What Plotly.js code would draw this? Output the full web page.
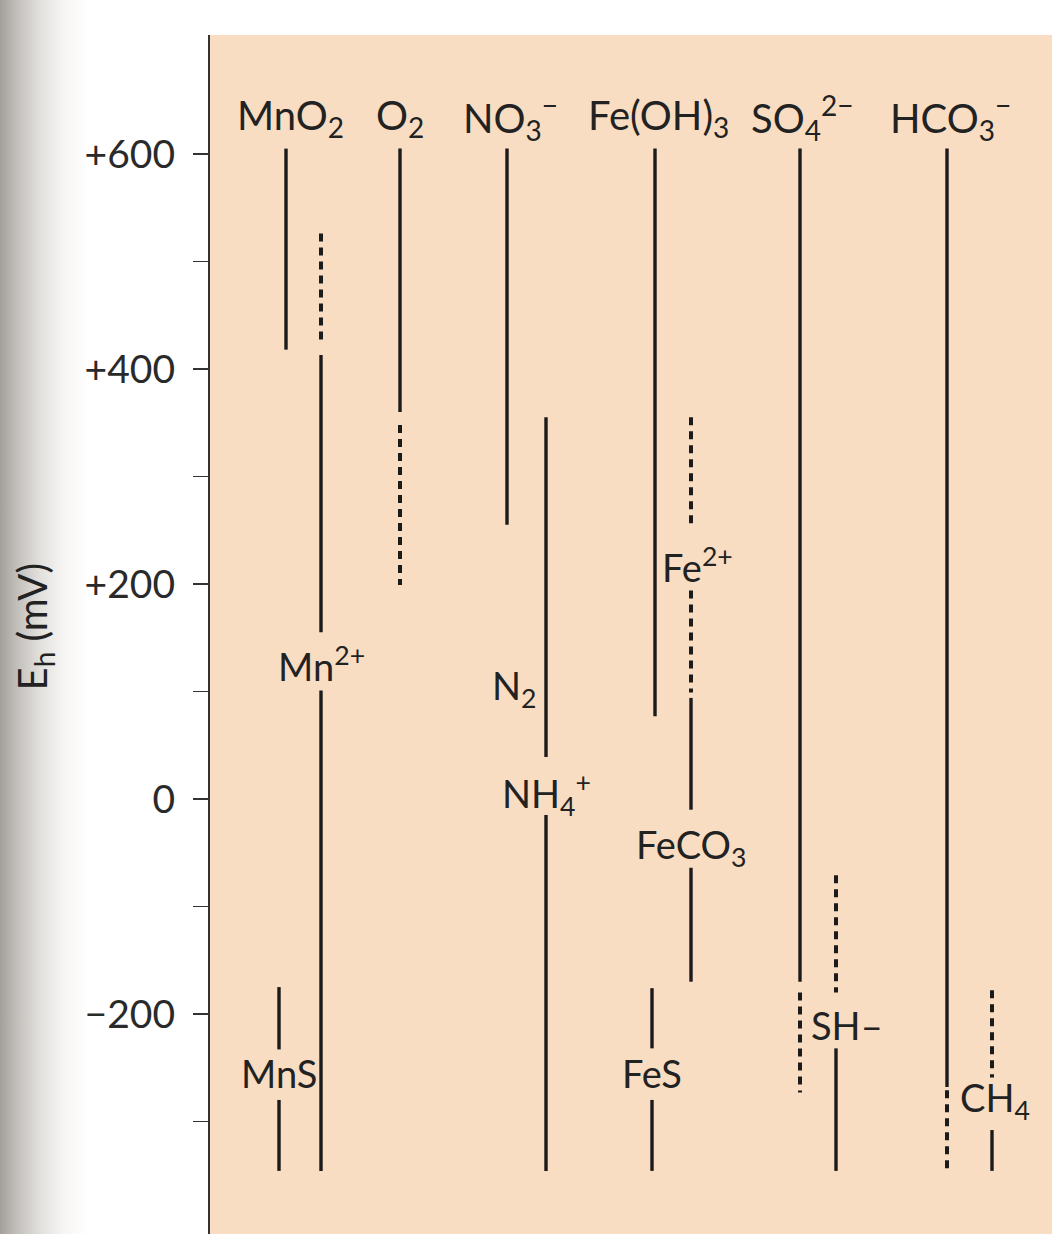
<!DOCTYPE html>
<html>
<head>
<meta charset="utf-8">
<script src="https://cdn.plot.ly/plotly-3.0.1.min.js"></script>
<style>
  html, body { margin: 0; padding: 0; }
  body {
    width: 1052px; height: 1234px; overflow: hidden;
    background: linear-gradient(to right, #a3a09c 0px, #c4c1bd 18px, #e2e0dd 40px, #f5f4f2 62px, #ffffff 88px);
  }
  #chart { width: 1052px; height: 1234px; }
</style>
</head>
<body>
<div id="chart"></div>
<script>
// ---- Data (Eh in mV) ----
// Header labels (oxidised species) and the column they sit above
const headerLabels = ['MnO<sub>2</sub>', 'O<sub>2</sub>', 'NO<sub>3</sub><sup>−</sup>', 'Fe(OH)<sub>3</sub>', 'SO<sub>4</sub><sup>2−</sup>', 'HCO<sub>3</sub><sup>−</sup>'];
const headerCols   = ['MnO2', 'O2', 'NO3', 'FeOH3', 'SO4', 'HCO3'];
const headerEh     = [634, 634, 634, 634, 634, 634];

// Solid segments: column, upper Eh, lower Eh
const solidCol    = ['MnO2', 'Mn2', 'Mn2', 'MnS', 'MnS', 'O2', 'NO3', 'N', 'N', 'FeOH3', 'Fe2', 'Fe2', 'FeS', 'FeS', 'SO4', 'SH', 'HCO3', 'CH4'];
const solidTop    = [605, 413, 101, -175, -280, 605, 605, 355, -15, 605, 94, -64, -176, -280, 605, -232, 605, -308];
const solidBottom = [418, 155, -346, -233, -346, 360, 255, 39, -346, 77, -10, -170, -232, -346, -170, -346, -268, -346];

// Dashed segments: column, upper Eh, lower Eh
const dashCol    = ['Mn2', 'O2', 'Fe2', 'Fe2', 'SO4', 'SH', 'HCO3', 'CH4'];
const dashTop    = [526, 348, 355, 194, -180, -71, -271, -178];
const dashBottom = [422, 199, 252, 99, -273, -180, -346, -259];

// Product labels within the columns
const productLabels = ['Mn<sup>2+</sup>', 'MnS', 'N<sub>2</sub>', 'NH<sub>4</sub><sup>+</sup>', 'Fe<sup>2+</sup>', 'FeCO<sub>3</sub>', 'FeS', 'SH–', 'CH<sub>4</sub>'];
const productCols   = ['Mn2', 'MnS', 'N2lbl', 'N', 'Fe2lbl', 'Fe2', 'FeS', 'SHlbl', 'CH4lbl'];
const productEh     = [126, -255, 103, 5, 218, -45, -255, -210, -280];

// Y axis ticks
const tickVals = [600, 400, 200, 0, -200];
const tickText = ['+600', '+400', '+200', '0', '−200'];
const minorVals = [500, 300, 100, -100, -300];
const yTitle = 'E<sub>h</sub> (mV)';
const yTitleEh = 160;

// ---- Layout: horizontal placement of each column (x axis units) ----
const colX = {
  MnS: 279, MnO2: 286, Mn2: 321, O2: 400, NO3: 507, N: 546, N2lbl: 514,
  FeS: 652, FeOH3: 655, Fe2: 691, Fe2lbl: 697, SO4: 800, SH: 836, SHlbl: 847,
  HCO3: 947, CH4: 992, CH4lbl: 995
};
const headerX = { MnO2: 290, O2: 400, NO3: 510, FeOH3: 658, SO4: 802, HCO3: 950 };

function segTrace(cols, tops, bottoms, dash) {
  const xs = [], ys = [];
  cols.forEach((c, i) => {
    xs.push(colX[c], colX[c], null);
    ys.push(tops[i], bottoms[i], null);
  });
  return {
    x: xs, y: ys, type: 'scatter', mode: 'lines', hoverinfo: 'skip',
    line: { color: '#1b1b1b', width: dash ? 4 : 3.4, dash: dash ? '8px,6px' : 'solid' },
    showlegend: false
  };
}

const FONT = 'Lato, "Open Sans", sans-serif';
const annotations = [];
headerLabels.forEach((t, i) => annotations.push({
  x: headerX[headerCols[i]], y: headerEh[i], xref: 'x', yref: 'y', text: t, showarrow: false,
  font: { family: FONT, size: 40, color: '#222' }
}));
productLabels.forEach((t, i) => annotations.push({
  x: colX[productCols[i]], y: productEh[i], xref: 'x', yref: 'y', text: t, showarrow: false,
  font: { family: FONT, size: 38, color: '#222' }
}));
annotations.push({
  x: (6 - 210) / 842, y: yTitleEh, xref: 'paper', yref: 'y', text: yTitle, showarrow: false,
  textangle: -90, font: { family: FONT, size: 40, color: '#222' }
});

const layout = {
  width: 1052, height: 1234,
  margin: { l: 210, r: 0, t: 35, b: 0 },
  paper_bgcolor: 'rgba(0,0,0,0)',
  plot_bgcolor: '#f8ddc2',
  xaxis: { range: [210, 1052], visible: false, fixedrange: true },
  yaxis: {
    range: [-404.7, 710.7], tickmode: 'array', tickvals: tickVals, ticktext: tickText,
    ticks: 'outside', ticklen: 15, tickwidth: 1.6, tickcolor: '#333',
    minor: { tickmode: 'array', tickvals: minorVals, ticks: 'outside', ticklen: 15, tickwidth: 1.6, tickcolor: '#333', showgrid: false },
    showline: true, linecolor: '#333', linewidth: 2.2, showgrid: false, zeroline: false,
    ticklabelstandoff: 10,
    tickfont: { family: FONT, size: 39, color: '#2a2a2a' }
  },
  annotations: annotations
};

Plotly.newPlot('chart', [
  segTrace(solidCol, solidTop, solidBottom, false),
  segTrace(dashCol, dashTop, dashBottom, true)
], layout, { staticPlot: true });
</script>
</body>
</html>
